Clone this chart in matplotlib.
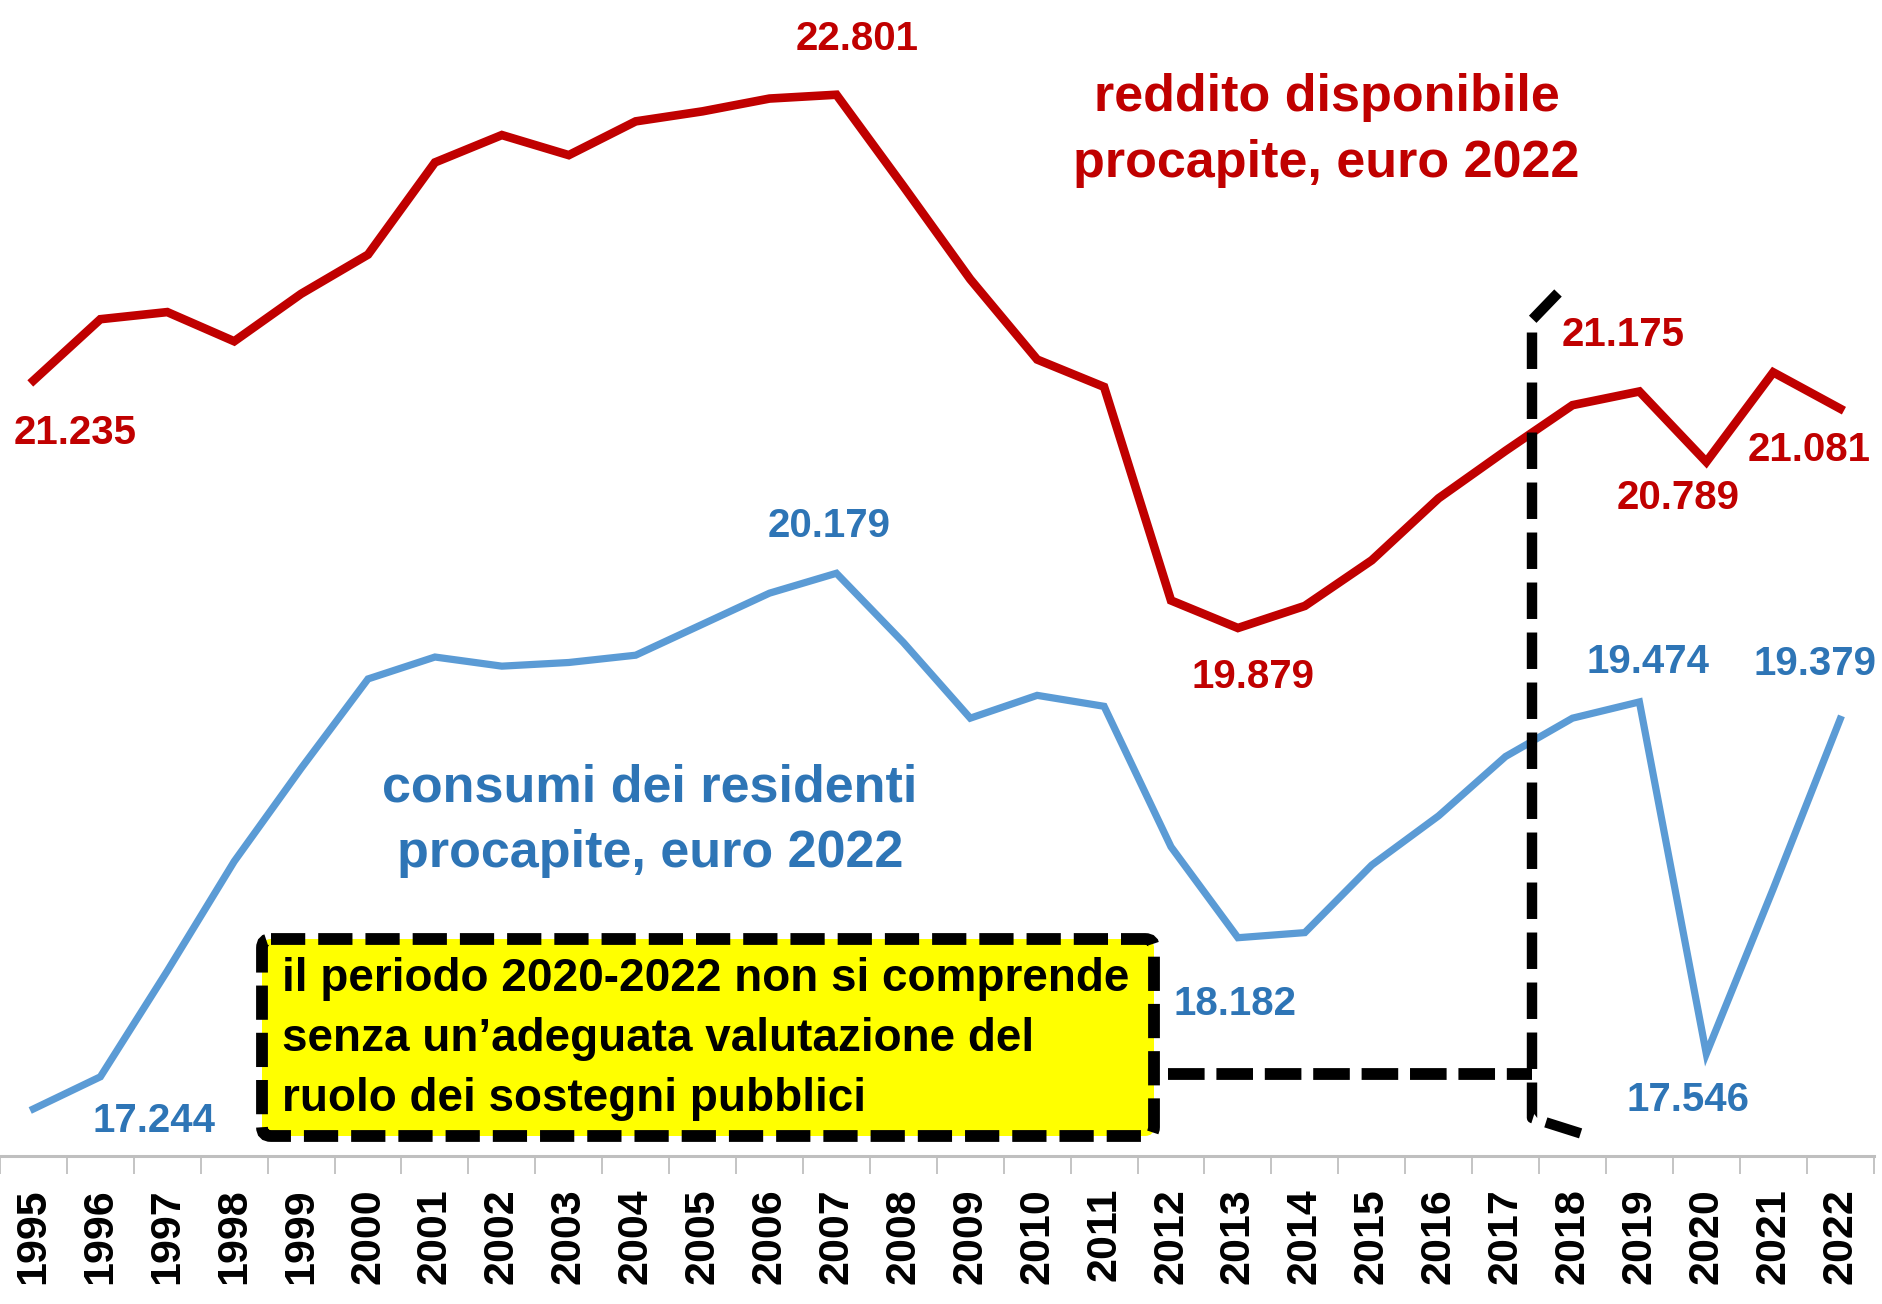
import numpy as np
import matplotlib
matplotlib.use("Agg")
import matplotlib.pyplot as plt
from matplotlib.patches import FancyBboxPatch
from matplotlib.lines import Line2D
import matplotlib.transforms as mtransforms

years = list(range(1995, 2023))

reddito = [21.235, 21.571, 21.61, 21.45, 21.71, 21.925, 22.43, 22.58, 22.47, 22.655,
           22.71, 22.78, 22.801, 22.30, 21.79, 21.35, 21.20, 20.03, 19.879, 20.0,
           20.25, 20.59, 20.85, 21.10, 21.175, 20.789, 21.28, 21.081]

consumi = [17.244, 17.42, 18.0, 18.6, 19.11, 19.60, 19.72, 19.67, 19.69, 19.73,
           19.90, 20.07, 20.179, 19.80, 19.385, 19.51, 19.45, 18.68, 18.182, 18.21,
           18.58, 18.85, 19.175, 19.385, 19.474, 17.546, 18.45, 19.379]

# labelled points: (year, offset in points)
red_labels = {1995: (30, -38), 2007: (15, 40), 2013: (11, -35),
              2019: (-12, 41), 2020: (-20, -26), 2022: (-22, -30)}
blue_labels = {1995: (87, -9), 2007: (-5, 34), 2013: (-2, -48),
               2019: (6, 29), 2020: (-13, -33), 2022: (-18, 40)}

red_name = "reddito disponibile\nprocapite, euro 2022"
blue_name = "consumi dei residenti\nprocapite, euro 2022"
note = "il periodo 2020-2022 non si comprende\nsenza un\u2019adeguata valutazione del\nruolo dei sostegni pubblici"

RED = "#C00000"
BLUE_LINE = "#5B9BD5"
BLUE_TXT = "#2E75B6"

plt.rcParams['font.family'] = ['Liberation Sans', 'DejaVu Sans']

W, H = 1883, 1304
fig = plt.figure(figsize=(W / 100, H / 100), dpi=100)
ax = fig.add_axes([0, (H - 1156) / H, 1873.6 / W, 1156 / H])

ax.plot(years, reddito, color=RED, lw=6.2, solid_joinstyle='miter', zorder=3)
ax.plot(years, consumi, color=BLUE_LINE, lw=5.2, solid_joinstyle='miter', zorder=3)

ax.set_xlim(1994.59, 2022.5)
ax.set_ylim(16.986, 23.32)


def fmt(v):
    return f"{v:.3f}"


for yr, off in red_labels.items():
    v = reddito[years.index(yr)]
    ax.annotate(fmt(v), (yr, v), xytext=off, textcoords='offset points',
                ha='center', va='center', color=RED, fontsize=29, fontweight='bold')
for yr, off in blue_labels.items():
    v = consumi[years.index(yr)]
    ax.annotate(fmt(v), (yr, v), xytext=off, textcoords='offset points',
                ha='center', va='center', color=BLUE_TXT, fontsize=29, fontweight='bold')

ax.text(0.708, 0.887, red_name, transform=ax.transAxes, ha='center', va='center',
        color=RED, fontsize=37.5, fontweight='bold', linespacing=1.45)
ax.text(0.347, 0.290, blue_name, transform=ax.transAxes, ha='center', va='center',
        color=BLUE_TXT, fontsize=37.5, fontweight='bold', linespacing=1.45)

# axes styling
for s in ['top', 'right', 'left']:
    ax.spines[s].set_visible(False)
ax.spines['bottom'].set_color('#BFBFBF')
ax.spines['bottom'].set_linewidth(2.2)
ax.set_yticks([])
ax.set_xticks(years)
ax.set_xticklabels([str(y) for y in years], rotation=90, fontsize=31,
                   fontweight='bold', va='top')
ax.set_xticks(np.arange(1994.5, 2023, 1), minor=True)
ax.tick_params(axis='x', which='major', length=0, pad=23)
ax.tick_params(axis='x', which='minor', length=13, width=1.3, color='#BFBFBF')

# annotation box and bracket, in pixel coordinates (top-left origin)
px = mtransforms.Affine2D().scale(1 / W, -1 / H).translate(0, 1) + fig.transFigure

box = FancyBboxPatch((262, 939), 892, 197, boxstyle='round,pad=0,rounding_size=9',
                     transform=px, fc='#FFFF00', ec='black', lw=8.5,
                     ls=(0, (2.9, 1.1)), zorder=5)
fig.patches.append(box)
fig.text(282, 1039, note, transform=px, ha='left', va='center', fontsize=33,
         fontweight='bold', linespacing=1.47, zorder=6)

hline = Line2D([1168, 1532], [1074, 1074], transform=px, color='black', lw=8.5,
               ls=(0, (3.1, 1.0)))
bracket = Line2D([1558, 1532, 1532, 1592], [293, 320, 1118, 1137], transform=px,
                 color='black', lw=7.5, ls=(0, (3.5, 1.3)))
fig.lines.extend([hline, bracket])

fig.savefig("out.png", dpi=100)
